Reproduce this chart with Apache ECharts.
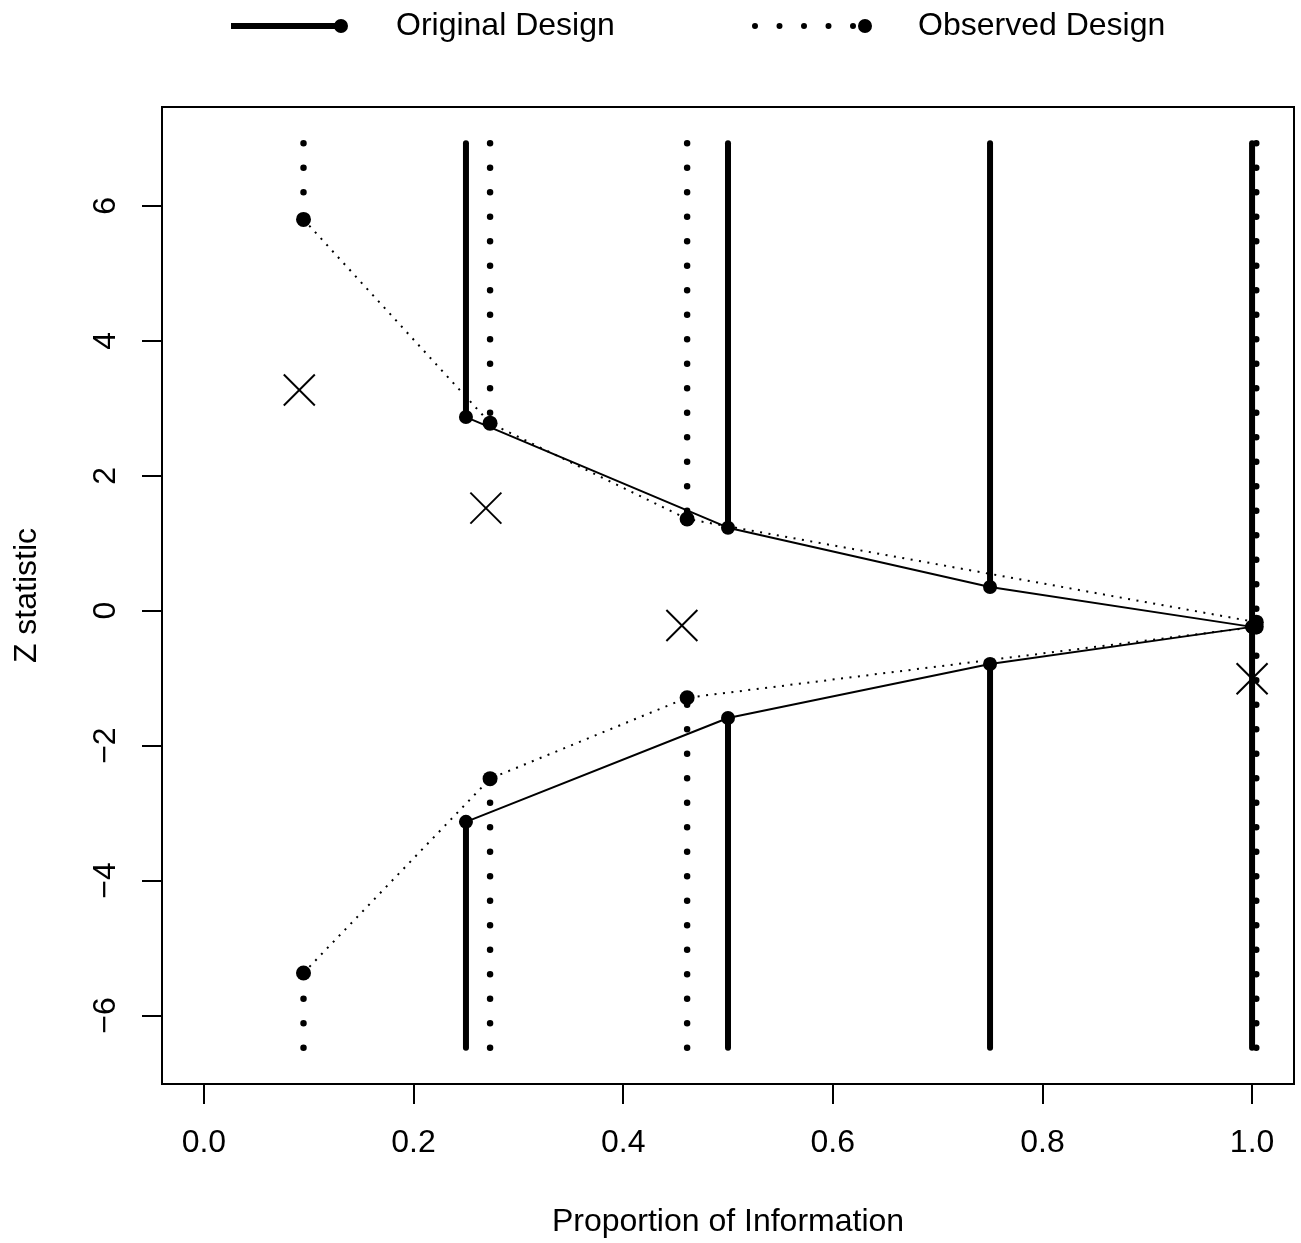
<!DOCTYPE html>
<html>
<head>
<meta charset="utf-8">
<script src="https://cdn.jsdelivr.net/npm/echarts@6/dist/echarts.min.js"></script>
<style>
  html, body { margin: 0; padding: 0; background: #fff; }
  #chart { width: 1301px; height: 1243px; }
</style>
</head>
<body>
<div id="chart"></div>
<script>
// Planned design: information fractions and boundaries
const infoOriginal = [0.25, 0.5, 0.75, 1.0];
const upperOriginal = [2.87, 1.23, 0.35, -0.24];
const lowerOriginal = [-3.13, -1.59, -0.79, -0.24];

// Design recomputed at the observed information fractions
const infoObserved = [0.095, 0.273, 0.461, 1.004];
const upperObserved = [5.80, 2.78, 1.36, -0.17];
const lowerObserved = [-5.37, -2.49, -1.29, -0.24];

// Observed test statistics at each analysis
const infoZ = [0.091, 0.269, 0.456, 1.0];
const zStatistic = [3.27, 1.52, -0.22, -1.01];

// Extent of the rejection regions drawn above/below the boundaries
const zLimits = [-6.48, 6.93];

// Axis ticks
const xTicks = [0, 0.2, 0.4, 0.6, 0.8, 1.0];
const yTicks = [-6, -4, -2, 0, 2, 4, 6];

const FONT = 'Liberation Sans, Arial, Helvetica, sans-serif';
const FS = 32;

const zip = (xs, ys) => xs.map((x, i) => [x, ys[i]]);

// Vertical rejection segments: [x, outer limit, boundary]
function regionSegments(xs, upper, lower) {
  const out = [];
  xs.forEach((x, i) => {
    out.push([x, zLimits[1], upper[i]]);
    out.push([x, zLimits[0], lower[i]]);
  });
  return out;
}

function segmentRenderer(style) {
  return function (params, api) {
    const p1 = api.coord([api.value(0), api.value(1)]);
    const p2 = api.coord([api.value(0), api.value(2)]);
    return {
      type: 'line',
      shape: { x1: p1[0], y1: p1[1], x2: p2[0], y2: p2[1] },
      style: Object.assign({ stroke: '#000', fill: null }, style)
    };
  };
}

function crossRenderer(params, api) {
  const c = api.coord([api.value(0), api.value(1)]);
  const h = 15.5;
  const st = { stroke: '#000', lineWidth: 2, fill: null };
  return {
    type: 'group',
    children: [
      { type: 'line', shape: { x1: c[0] - h, y1: c[1] - h, x2: c[0] + h, y2: c[1] + h }, style: st },
      { type: 'line', shape: { x1: c[0] - h, y1: c[1] + h, x2: c[0] + h, y2: c[1] - h }, style: st }
    ]
  };
}

const iconOriginal = 'path://M0,4 L110,4 L110,10 L0,10 Z M103,7 A7,7 0 1 1 117,7 A7,7 0 1 1 103,7 Z';
const iconObserved = 'path://' +
  [3, 27.5, 52, 76.5, 101].map(cx =>
    'M' + (cx - 3) + ',7 A3,3 0 1 1 ' + (cx + 3) + ',7 A3,3 0 1 1 ' + (cx - 3) + ',7 Z').join(' ') +
  ' M106,7 A7,7 0 1 1 120,7 A7,7 0 1 1 106,7 Z';

function legendFor(name, icon, left, width, pad) {
  return {
    data: [{ name: name, icon: icon }],
    left: left,
    top: 10,
    padding: 0,
    itemWidth: width,
    itemHeight: 14,
    selectedMode: false,
    itemStyle: { color: '#000', borderWidth: 0 },
    textStyle: { fontFamily: FONT, fontSize: FS, color: '#000', padding: [0, 0, 0, pad] }
  };
}

const chart = echarts.init(document.getElementById('chart'), null, { renderer: 'canvas' });

chart.setOption({
  animation: false,
  backgroundColor: '#fff',
  legend: [
    legendFor('Original Design', iconOriginal, 231, 117, 43),
    legendFor('Observed Design', iconObserved, 752, 120, 41)
  ],
  grid: {
    left: 162, right: 7, top: 107, bottom: 158,
    show: true, borderColor: '#000', borderWidth: 2, backgroundColor: 'transparent'
  },
  xAxis: {
    type: 'value',
    min: -0.04, max: 1.04,
    name: 'Proportion of Information',
    nameLocation: 'middle',
    nameGap: 122,
    nameTextStyle: { fontFamily: FONT, fontSize: FS, color: '#000' },
    axisLine: { show: false, onZero: false },
    splitLine: { show: false },
    axisTick: { show: true, length: 20, lineStyle: { color: '#000', width: 2 }, customValues: xTicks },
    axisLabel: {
      customValues: xTicks, margin: 43,
      fontFamily: FONT, fontSize: FS, color: '#000',
      formatter: v => v.toFixed(1)
    }
  },
  yAxis: {
    type: 'value',
    min: -7.016, max: 7.466,
    name: 'Z statistic',
    nameLocation: 'middle',
    nameGap: 119,
    nameTextStyle: { fontFamily: FONT, fontSize: FS, color: '#000' },
    axisLine: { show: false, onZero: false },
    splitLine: { show: false },
    axisTick: { show: true, length: 20, lineStyle: { color: '#000', width: 2 }, customValues: yTicks },
    axisLabel: {
      customValues: yTicks, margin: 40, rotate: 90,
      fontFamily: FONT, fontSize: FS, color: '#000',
      formatter: v => (v < 0 ? '\u2212' + Math.abs(v) : String(v))
    }
  },
  series: [
    {
      name: 'Original regions',
      type: 'custom',
      renderItem: segmentRenderer({ lineWidth: 6, lineCap: 'round' }),
      encode: { x: 0, y: [1, 2] },
      data: regionSegments(infoOriginal, upperOriginal, lowerOriginal),
      z: 2
    },
    {
      name: 'Observed regions',
      type: 'custom',
      renderItem: segmentRenderer({ lineWidth: 6.5, lineCap: 'round', lineDash: [0.1, 24.4] }),
      encode: { x: 0, y: [1, 2] },
      data: regionSegments(infoObserved, upperObserved, lowerObserved),
      z: 2
    },
    {
      name: 'Original Design',
      type: 'line',
      data: zip(infoOriginal, upperOriginal),
      symbol: 'circle', symbolSize: 14, showAllSymbol: true,
      itemStyle: { color: '#000', borderWidth: 0 },
      lineStyle: { color: '#000', width: 2 },
      z: 3
    },
    {
      name: 'Original Design',
      type: 'line',
      data: zip(infoOriginal, lowerOriginal),
      symbol: 'circle', symbolSize: 14, showAllSymbol: true,
      itemStyle: { color: '#000', borderWidth: 0 },
      lineStyle: { color: '#000', width: 2 },
      z: 3
    },
    {
      name: 'Observed Design',
      type: 'line',
      data: zip(infoObserved, upperObserved),
      symbol: 'circle', symbolSize: 15, showAllSymbol: true,
      itemStyle: { color: '#000', borderWidth: 0 },
      lineStyle: { color: '#000', width: 2, type: [2, 6.5] },
      z: 3
    },
    {
      name: 'Observed Design',
      type: 'line',
      data: zip(infoObserved, lowerObserved),
      symbol: 'circle', symbolSize: 15, showAllSymbol: true,
      itemStyle: { color: '#000', borderWidth: 0 },
      lineStyle: { color: '#000', width: 2, type: [2, 6.5] },
      z: 3
    },
    {
      name: 'Z statistic',
      type: 'custom',
      renderItem: crossRenderer,
      encode: { x: 0, y: 1 },
      data: zip(infoZ, zStatistic),
      z: 4
    }
  ]
});
</script>
</body>
</html>
